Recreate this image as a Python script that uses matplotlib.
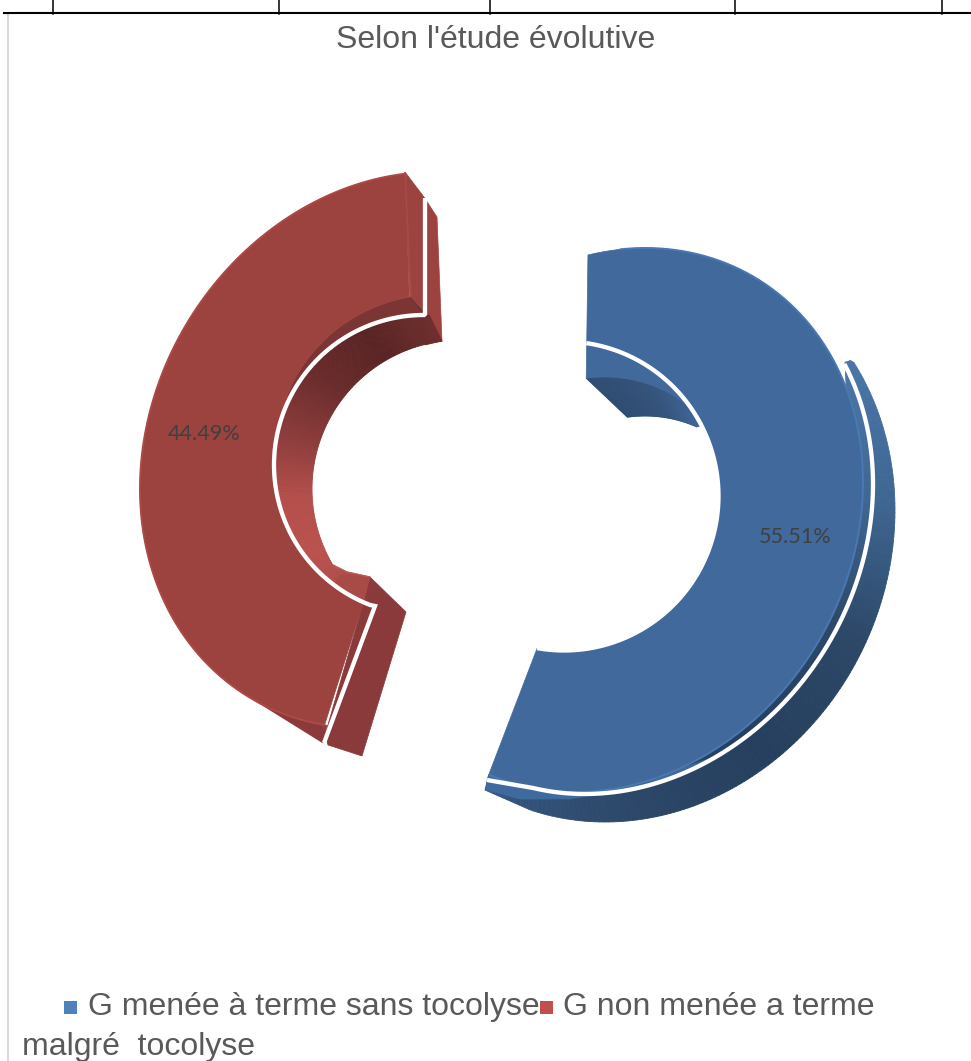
import numpy as np
import matplotlib
matplotlib.use("Agg")
import matplotlib.pyplot as plt
from matplotlib.patches import Polygon, Rectangle
from matplotlib.collections import PolyCollection
from matplotlib.colors import LinearSegmentedColormap

title = "Selon l'étude évolutive"
categories = ["G menée à terme sans tocolyse", "G non menée a terme"]
legend_second_line = "malgré  tocolyse"
shares = [55.51, 44.49]
share_labels = ["55.51%", "44.49%"]
header_ticks = [53, 279, 490, 735, 942]

fig = plt.figure(figsize=(9.71, 10.61), dpi=100)
ax = fig.add_axes([0, 0, 1, 1])
ax.set_xlim(0, 971)
ax.set_ylim(1061, 0)
ax.axis("off")


def ell(cx, cy, rx, ry, tilt, t0, t1, n=120):
    t = np.radians(np.linspace(t0, t1, n))
    return np.c_[cx + rx * np.sin(t), cy - ry * np.cos(t - np.radians(tilt))]


def circ(cx, cy, r, t0, t1, n=120):
    return ell(cx, cy, r, r, 0, t0, t1, n)


def resample(p, n):
    d = np.r_[0, np.cumsum(np.hypot(*np.diff(p, axis=0).T))]
    s = np.linspace(0, d[-1], n)
    return np.c_[np.interp(s, d, p[:, 0]), np.interp(s, d, p[:, 1])]


def strips(a, b, stops, n=160, z=1):
    a, b = resample(a, n), resample(b, n)
    cmap = LinearSegmentedColormap.from_list("c", stops)
    verts = [[a[i], a[i + 1], b[i + 1], b[i]] for i in range(n - 1)]
    cols = [cmap(i / (n - 2)) for i in range(n - 1)]
    ax.add_collection(PolyCollection(verts, facecolors=cols, edgecolors=cols,
                                     linewidths=0.6, zorder=z))


def poly(p, c, z):
    ax.add_patch(Polygon(p, closed=True, facecolor=c, edgecolor=c, linewidth=0.5, zorder=z))


def stroke(p, c, lw, z):
    p = np.asarray(p)
    ax.plot(p[:, 0], p[:, 1], color=c, lw=lw, zorder=z, solid_capstyle="butt",
            solid_joinstyle="miter")


WHITE_LW = 3.1
TOP_BLUE, TOP_RED = "#41699b", "#9c423f"

# ---------------- blue slice ----------------
b_start = -5.0
b_end = b_start + shares[0] * 3.6 * 1.069
b_outer = ell(610, 520, 253, 272, 8, b_start, b_end)
b_rim = np.vstack([ell(620, 522, 253, 272, 8, 62.5, 200), [[510, 784], [487, 780]]])
b_wall = ell(630, 537, 265, 285, 5.4, 57, 202)

strips(np.vstack([[[846, 362]], b_wall, [[485, 790]]]),
       np.vstack([[[845, 362]], ell(610, 520, 253, 272, 8, 69, b_end)]),
       ["#4a76a8", "#3f6793", "#2c4767", "#263f5e", "#2c4769", "#35577f"], z=1)
# face colour reaches the rim at the lower left, pale band below the rim
poly(np.vstack([ell(610, 520, 253, 272, 8, 165, b_end, 40),
                b_rim[::-1][:40]]), TOP_BLUE, 2)
poly(np.vstack([ell(620, 522, 253, 272, 8, 175, 200, 30),
                [[510, 784], [487, 781], [486, 790], [520, 799], [570, 799]]]),
     "#3f6a9e", 1.5)

arc_a = circ(605, 512, 135, -8, 48)
arc_b = np.vstack([circ(645, 543, 127, -8, 24), [[703, 425]]])
strips(arc_a, arc_b, ["#2f4c72", "#35547c", "#41699b"], n=80, z=2)

b_face_inner = circ(564, 496, 154.5, 190, 63)
b_face = np.vstack([b_outer, b_face_inner, arc_a[::-1]])
poly(b_face, TOP_BLUE, 3)
stroke(b_outer[4:], "#4a78b2", 1.4, 4)
stroke(circ(564, 496, 157, 62, 100, 40), TOP_BLUE, 0.8, 4)
stroke(circ(564, 496, 154.5, 8.3, 190), "white", WHITE_LW, 5)
stroke(b_rim, "white", WHITE_LW, 5)

# ---------------- red slice ----------------
r_end = 361.6
r_start = r_end - shares[1] * 3.6 * 1.0314
r_outer = ell(398, 450, 258, 278, 8, r_start, r_end)

# bottom cut face and sliver
poly([(370, 577), (406, 612), (362, 756), (328, 745), (325, 735), (362, 607)], "#8a3a3a", 1)
poly(np.vstack([ell(398, 450, 258, 278, 8, 196, 214, 20)[::-1], [[323, 743]]]), "#8a3a3a", 1)
# top cut face
poly([(405, 172), (424, 197), (437, 217), (442, 341), (427, 318), (410, 297)], "#9c4340", 1)
poly([(410, 297), (427, 316), (442, 341), (425, 345)], "#70302f", 1.2)
# inner wall
hole = np.vstack([circ(461, 489, 149, 352.7, 239.3), [[347, 572], [370, 577]]])
strips(circ(424, 465, 150, 362, 205), hole,
       ["#6e2f2e", "#5a2424", "#6a2b2b", "#8a3b3a", "#b34e4b", "#ba524e", "#a84a46"], z=2)
poly([(362, 607), (370, 577), (340, 575), (330, 590)], "#a84a46", 2.5)
stroke([(333, 565), (347, 572), (370, 577)], "#c05a55", 1.0, 2.7)

# top face, its inner edge leaves the white ring towards the upper right
ang = np.linspace(355, 205, 120)
rad = np.interp(ang, [205, 284, 355], [150, 150, 168.5])
r_inner = np.c_[424 + rad * np.sin(np.radians(ang)), 465 - rad * np.cos(np.radians(ang))]
band = np.vstack([circ(424, 465, 150, 360, 280, 50), r_inner[:64][::-1]])
poly(band, "#7a3534", 2.6)
r_face = np.vstack([r_outer, r_inner, [[362, 607], [323, 730]]])
poly(r_face, TOP_RED, 3)
stroke(r_outer[:], "#ad4946", 1.4, 4)
stroke([(405, 172), (411, 297)], "#a94845", 1.2, 4)

ring = circ(424, 465, 150, 201, 360)
stroke(np.vstack([[[324, 743], [375, 606]], ring, [[425, 314], [425, 198]]]), "white", WHITE_LW, 5)

# ---------------- labels ----------------
ax.text(795, 537, share_labels[0], ha="center", va="center", fontsize=15.6,
        family="Lato", color="#404040", zorder=6)
ax.text(204, 434, share_labels[1], ha="center", va="center", fontsize=15.6,
        family="Lato", color="#404040", zorder=6)

ax.text(496, 40.5, title, ha="center", va="center", fontsize=23,
        family="Liberation Sans", color="#595959")

ax.add_patch(Rectangle((64, 1001), 13, 13, facecolor="#4f81bd", edgecolor="none"))
ax.add_patch(Rectangle((540, 1001), 13, 13, facecolor="#c0504d", edgecolor="none"))
kw = dict(va="baseline", ha="left", fontsize=23, family="Liberation Sans", color="#595959")
ax.text(88, 1015, categories[0], **kw)
ax.text(563, 1015, categories[1], **kw)
ax.text(22, 1055, legend_second_line, **kw)

# ---------------- page furniture ----------------
ax.plot([4, 971], [12.5, 12.5], color="black", lw=1.5, zorder=7)
for x in header_ticks:
    ax.plot([x, x], [0, 14], color="black", lw=1.1, zorder=7)
ax.plot([8, 8], [14, 1061], color="#d9d9d9", lw=1.5, zorder=0)

fig.savefig("out.png", dpi=100)
